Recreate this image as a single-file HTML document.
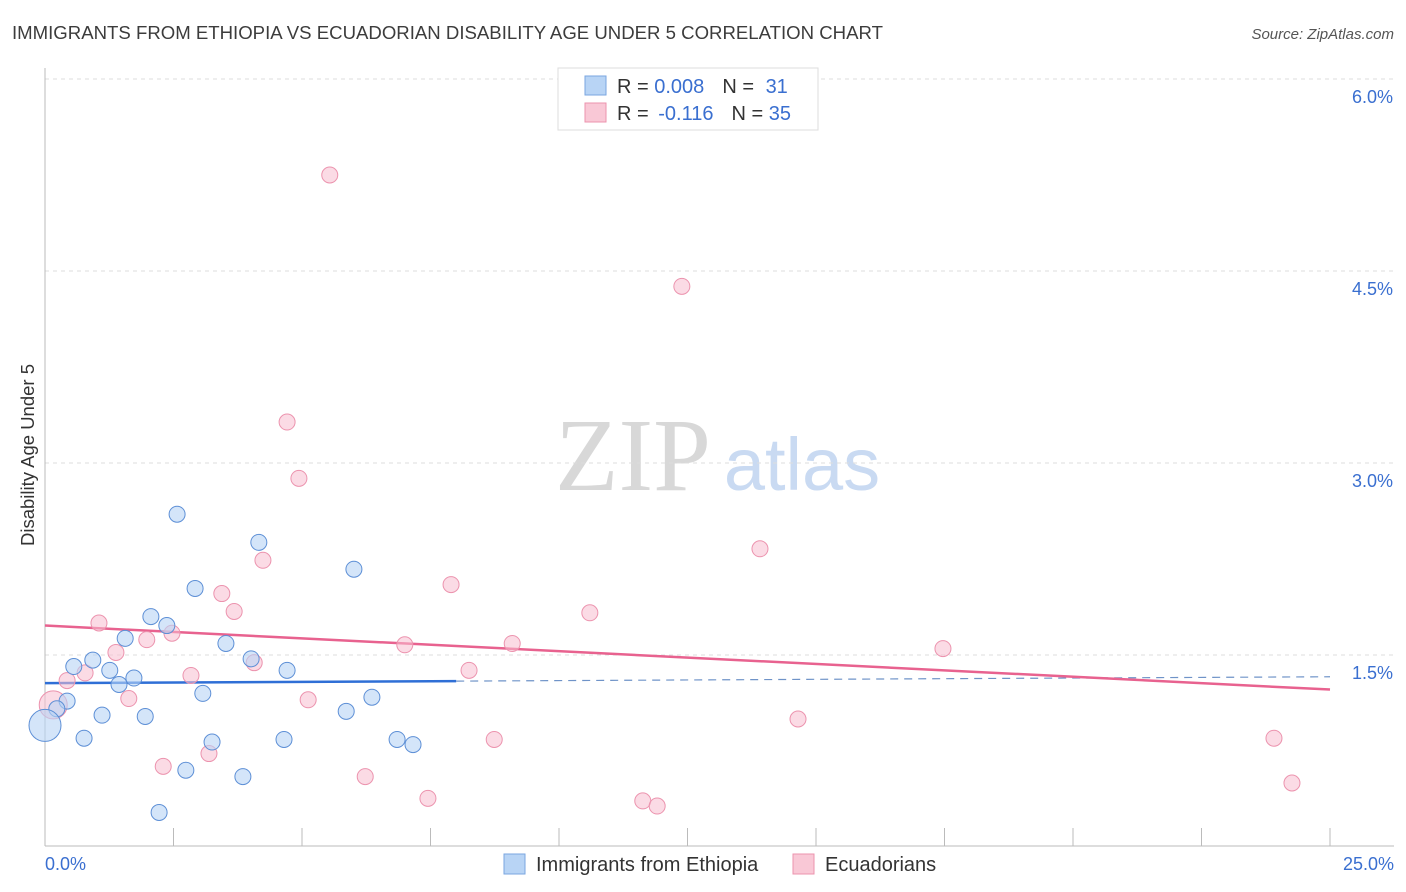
<!DOCTYPE html>
<html><head><meta charset="utf-8"><style>
body{margin:0;background:#fff;font-family:"Liberation Sans",sans-serif;}
svg{display:block}
</style></head><body>
<svg id="chart" width="1406" height="892" viewBox="0 0 1406 892" xmlns="http://www.w3.org/2000/svg">
<text x="12" y="39" font-size="18.6" fill="#3c3c3c">IMMIGRANTS FROM ETHIOPIA VS ECUADORIAN DISABILITY AGE UNDER 5 CORRELATION CHART</text>
<text x="1394" y="39" font-size="15" fill="#555" text-anchor="end" font-style="italic">Source: ZipAtlas.com</text>
<text transform="translate(34,455) rotate(-90)" font-size="18.5" fill="#333" text-anchor="middle">Disability Age Under 5</text>
<g>
<text x="633" y="490" font-size="104" fill="#d8d8d8" text-anchor="middle" font-family="Liberation Serif,serif">ZIP</text>
<text x="802" y="490" font-size="74" fill="#c9daf2" text-anchor="middle">atlas</text>
</g>
<g id="grid"></g><g id="axes"></g><g id="trends"></g><g id="pts"></g>
<g>
<rect x="558" y="68" width="260" height="62" fill="#fff" stroke="#ddd"/>
<rect x="585" y="76" width="21" height="19" fill="#b8d4f5" stroke="#7aa6e0"/>
<rect x="585" y="103" width="21" height="19" fill="#f9c8d6" stroke="#ec93ae"/>
<text x="617" y="93" font-size="20" fill="#333">R = <tspan fill="#3a6fd0">0.008</tspan><tspan dx="18">N = </tspan><tspan fill="#3a6fd0" dx="6">31</tspan></text>
<text x="617" y="120" font-size="20" fill="#333">R = <tspan fill="#3a6fd0" dx="4">-0.116</tspan><tspan dx="18">N = </tspan><tspan fill="#3a6fd0">35</tspan></text>
</g>
<g>
<rect x="504" y="854" width="21" height="20" fill="#b8d4f5" stroke="#7aa6e0"/>
<text x="536" y="871" font-size="20" fill="#333">Immigrants from Ethiopia</text>
<rect x="793" y="854" width="21" height="20" fill="#f9c8d6" stroke="#ec93ae"/>
<text x="825" y="871" font-size="20" fill="#333">Ecuadorians</text>
</g>
</svg>
<script>
const yTicks=[1.5,3.0,4.5,6.0];
const yTickLabels=["1.5%","3.0%","4.5%","6.0%"];
const xTicks=[0,2.5,5,7.5,10,12.5,15,17.5,20,22.5,25];
const xEndLabels=["0.0%","25.0%"];
const blueX=[2.57,4.16,2.92,6.01,2.06,2.37,1.56,3.52,0.56,0.93,1.26,1.73,1.44,4.01,4.71,0.43,0.23,3.07,6.36,5.86,1.11,1.95,0.76,3.25,4.65,6.85,7.16,2.74,3.85,2.22,0];
const blueY=[2.60,2.38,2.02,2.17,1.80,1.73,1.63,1.59,1.41,1.46,1.38,1.32,1.27,1.47,1.38,1.14,1.08,1.20,1.17,1.06,1.03,1.02,0.85,0.82,0.84,0.84,0.80,0.60,0.55,0.27,0.95];
const blueR=[8,8,8,8,8,8,8,8,8,8,8,8,8,8,8,8,8,8,8,8,8,8,8,8,8,8,8,8,8,8,16];
const pinkX=[5.54,12.39,4.71,4.94,4.24,13.91,3.44,7.90,3.68,10.60,1.05,1.98,2.47,7.00,9.09,17.47,1.38,0.78,0.43,2.84,4.07,8.25,1.63,5.12,0.16,14.65,8.74,23.91,2.30,3.19,6.23,7.45,11.63,11.91,24.26];
const pinkY=[5.25,4.38,3.32,2.88,2.24,2.33,1.98,2.05,1.84,1.83,1.75,1.62,1.67,1.58,1.59,1.55,1.52,1.36,1.30,1.34,1.44,1.38,1.16,1.15,1.11,1.00,0.84,0.85,0.63,0.73,0.55,0.38,0.36,0.32,0.50];
const pinkR=[8,8,8,8,8,8,8,8,8,8,8,8,8,8,8,8,8,8,8,8,8,8,8,8,14,8,8,8,8,8,8,8,8,8,8];
const blueTrend=[1.28,1.33];
const blueSolidEnd=8.0;
const pinkTrend=[1.73,1.23];
const NS="http://www.w3.org/2000/svg";
const X=v=>45+v*51.4, Y=v=>847-v*128;
function mk(p,t,a){const e=document.createElementNS(NS,t);for(const k in a)e.setAttribute(k,a[k]);document.getElementById(p).appendChild(e);return e;}
yTicks.forEach((t,i)=>{
 const g=mk('grid','line',{x1:45,x2:1394,y1:Y(t),y2:Y(t),stroke:'#ddd','stroke-dasharray':'4,4'});
 
 
 const l=mk('grid','text',{x:1393,y:Y(t)+24,'font-size':18,fill:'#3a6fd0','text-anchor':'end'});
 l.textContent=yTickLabels[i];
 
 
});
const ax=mk('axes','line',{x1:45,x2:45,y1:68,y2:846,stroke:'#bbb'});


const bx=mk('axes','line',{x1:45,x2:1394,y1:846,y2:846,stroke:'#bbb'});


xTicks.forEach(t=>{const k=mk('axes','line',{x1:X(t),x2:X(t),y1:828,y2:846,stroke:'#bbb'});
 
 });
[[0,'start',45],[1,'end',1394]].forEach(([i,a,x])=>{const l=mk('axes','text',{x:x,y:870,'font-size':18,fill:'#3a6fd0','text-anchor':a});l.textContent=xEndLabels[i];
 
 });
const bAt=v=>blueTrend[0]+(blueTrend[1]-blueTrend[0])*v/25;
const t1=mk('trends','line',{x1:X(0),y1:Y(bAt(0)),x2:X(blueSolidEnd),y2:Y(bAt(blueSolidEnd)),stroke:'#2f6fd6','stroke-width':2.5});


const t2=mk('trends','line',{x1:X(blueSolidEnd),y1:Y(bAt(blueSolidEnd)),x2:X(25),y2:Y(bAt(25)),stroke:'#6f93c8','stroke-width':1.2,'stroke-dasharray':'8,6'});


const t3=mk('trends','line',{x1:X(0),y1:Y(pinkTrend[0]),x2:X(25),y2:Y(pinkTrend[1]),stroke:'#e8628f','stroke-width':2.5});


pinkX.forEach((x,i)=>{const c=mk('pts','circle',{cx:X(x),cy:Y(pinkY[i]),r:pinkR[i],fill:'rgba(248,190,208,0.55)',stroke:'#ec93ae','stroke-width':1});
 
 });
blueX.forEach((x,i)=>{const c=mk('pts','circle',{cx:X(x),cy:Y(blueY[i]),r:blueR[i],fill:'rgba(184,212,245,0.6)',stroke:'#5d8fd6','stroke-width':1});
 
 });
</script>
</body></html>
